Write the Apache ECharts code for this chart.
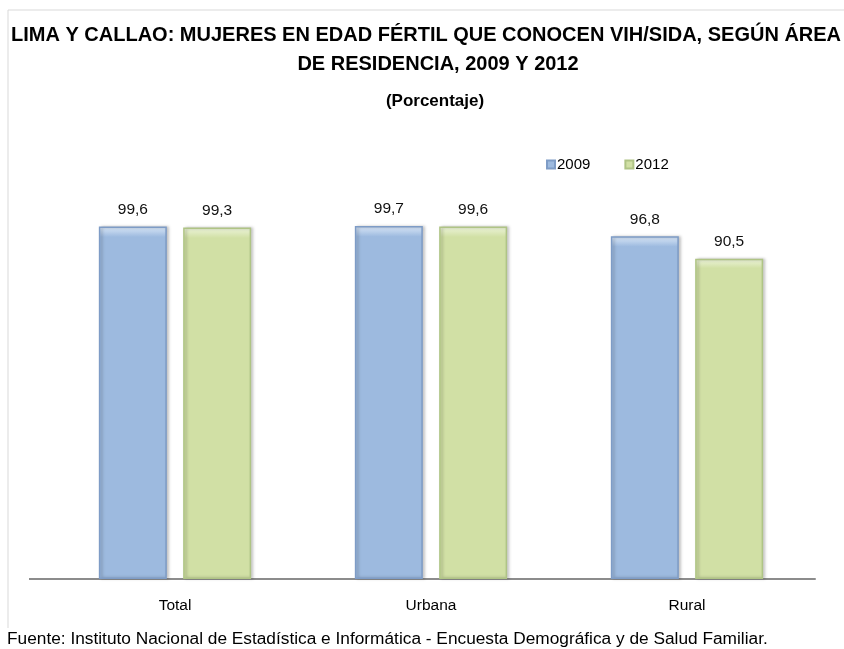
<!DOCTYPE html>
<html>
<head>
    <meta charset="utf-8">
    <title>Lima y Callao - VIH/SIDA</title>
    <script src="https://cdn.jsdelivr.net/npm/echarts@6/dist/echarts.min.js"></script>
    <style type="text/css">
        html, body { margin: 0; padding: 0; background: #fff; }
        #chart { width: 844px; height: 649px; }
    </style>
</head>
<body>
<div id="chart"></div>
<script>
    // datos
    var categorias = ['Total', 'Urbana', 'Rural'];
    var serie2009 = [99.6, 99.7, 96.8];
    var serie2012 = [99.3, 99.6, 90.5];
    var anios = ['2009', '2012'];

    var fuente = '"Liberation Sans", Arial, sans-serif';

    function etiqueta(p) {
        return p.value.toFixed(1).replace('.', ',');
    }

    function barStyle(base, light, dark) {
        return {
            color: new echarts.graphic.LinearGradient(0, 0, 0, 1, [
                {offset: 0, color: light},
                {offset: 0.03, color: base},
                {offset: 1, color: base}
            ]),
            borderColor: dark,
            borderWidth: 1.5,
            shadowColor: 'rgba(0,0,0,0.25)',
            shadowBlur: 3,
            shadowOffsetX: 2,
            shadowOffsetY: 0
        };
    }

    var chart = echarts.init(document.getElementById('chart'), null, {renderer: 'canvas'});
    var option = {
        animation: false,
        textStyle: {fontFamily: fuente},
        title: [
            {
                text: 'LIMA Y CALLAO: MUJERES EN EDAD FÉRTIL QUE CONOCEN VIH/SIDA, SEGÚN ÁREA',
                left: 6, top: 20,
                textStyle: {fontSize: 20, fontWeight: 'bold', color: '#000', fontFamily: fuente}
            },
            {
                text: 'DE RESIDENCIA, 2009 Y 2012',
                left: 433, top: 49, textAlign: 'center',
                textStyle: {fontSize: 20, fontWeight: 'bold', color: '#000', fontFamily: fuente}
            },
            {
                text: '(Porcentaje)',
                left: 430, top: 88, textAlign: 'center',
                textStyle: {fontSize: 17, fontWeight: 'bold', color: '#000', fontFamily: fuente}
            }
        ],
        legend: {
            data: anios,
            left: 541, top: 152,
            itemWidth: 8, itemHeight: 8, itemGap: 34,
            icon: 'rect',
            textStyle: {fontSize: 15, color: '#000', padding: [0, 0, 0, -3]}
        },
        grid: {left: 47, right: 29, top: 225, bottom: 70, containLabel: false},
        xAxis: {
            type: 'category',
            data: categorias,
            axisLine: {lineStyle: {color: '#8c8c8c', width: 2}},
            axisTick: {show: false},
            axisLabel: {fontSize: 15.5, color: '#000', margin: 19}
        },
        yAxis: {
            type: 'value', min: 0, max: 100,
            show: false
        },
        graphic: [
            {type: 'line', shape: {x1: 29, y1: 579, x2: 47, y2: 579}, style: {stroke: '#8c8c8c', lineWidth: 2}},
            {type: 'line', shape: {x1: 8, y1: 10, x2: 844, y2: 10}, style: {stroke: '#d9d9d9', lineWidth: 1}},
            {type: 'line', shape: {x1: 8, y1: 10, x2: 8, y2: 628}, style: {stroke: '#d9d9d9', lineWidth: 1}},
            {
                type: 'text', left: 7, top: 631,
                style: {
                    text: 'Fuente: Instituto Nacional de Estadística e Informática - Encuesta Demográfica y de Salud Familiar.',
                    fontSize: 17.3, fill: '#000', fontFamily: fuente
                }
            }
        ],
        series: [
            {
                name: anios[0], type: 'bar', data: serie2009,
                barWidth: 68, barGap: '24%',
                itemStyle: barStyle('#9dbadf', '#dbe8f8', '#7e9cc6'),
                label: {show: true, position: 'top', distance: 9, formatter: etiqueta, fontSize: 15.5, color: '#111'}
            },
            {
                name: anios[1], type: 'bar', data: serie2012,
                barWidth: 68,
                itemStyle: barStyle('#d1e0a5', '#eef5dc', '#afc485'),
                label: {show: true, position: 'top', distance: 9, formatter: etiqueta, fontSize: 15.5, color: '#111'}
            }
        ]
    };
    chart.setOption(option);
</script>
</body>
</html>
